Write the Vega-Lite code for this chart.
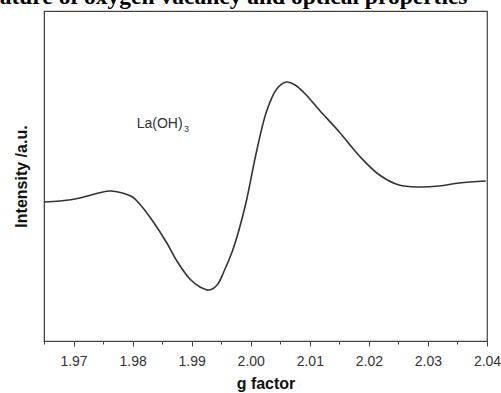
{
  "$schema": "https://vega.github.io/schema/vega-lite/v6.json",
  "autosize": {"type": "none"},
  "width": 443,
  "height": 330,
  "padding": {"left": 44, "top": 11, "right": 14, "bottom": 52},
  "background": "white",
  "config": {
    "view": {"stroke": "#444", "strokeWidth": 1.2},
    "axis": {"grid": false, "domainColor": "#444", "tickColor": "#444"}
  },
  "datasets": {
    "epr": [
      {"g": 1.9650, "intensity": 139},
      {"g": 1.9677, "intensity": 140},
      {"g": 1.9711, "intensity": 143},
      {"g": 1.9736, "intensity": 147},
      {"g": 1.9761, "intensity": 150},
      {"g": 1.9783, "intensity": 148},
      {"g": 1.9800, "intensity": 144},
      {"g": 1.9812, "intensity": 137},
      {"g": 1.9834, "intensity": 120},
      {"g": 1.9858, "intensity": 98},
      {"g": 1.9875, "intensity": 80},
      {"g": 1.9897, "intensity": 62},
      {"g": 1.9914, "intensity": 54},
      {"g": 1.9930, "intensity": 51},
      {"g": 1.9943, "intensity": 56},
      {"g": 1.9955, "intensity": 70},
      {"g": 1.9969, "intensity": 90},
      {"g": 1.9981, "intensity": 113},
      {"g": 1.9993, "intensity": 141},
      {"g": 2.0010, "intensity": 190},
      {"g": 2.0027, "intensity": 230},
      {"g": 2.0044, "intensity": 252},
      {"g": 2.0060, "intensity": 259},
      {"g": 2.0075, "intensity": 256},
      {"g": 2.0094, "intensity": 246},
      {"g": 2.0116, "intensity": 231},
      {"g": 2.0150, "intensity": 209},
      {"g": 2.0184, "intensity": 185},
      {"g": 2.0218, "intensity": 166},
      {"g": 2.0251, "intensity": 156},
      {"g": 2.0285, "intensity": 154},
      {"g": 2.0319, "intensity": 155},
      {"g": 2.0353, "intensity": 158},
      {"g": 2.0398, "intensity": 160}
    ],
    "labels": [
      {"g": 1.9807, "intensity": 213, "text": "La(OH)", "kind": "main"},
      {"g": 1.9887, "intensity": 209, "text": "3", "kind": "sub"}
    ],
    "heading": [
      {"g": 1.9575, "intensity": 337.5, "text": "ature of oxygen vacancy and optical properties"}
    ]
  },
  "layer": [
    {
      "data": {"name": "epr"},
      "mark": {"type": "line", "interpolate": "catmull-rom", "color": "#333", "strokeWidth": 1.6},
      "encoding": {
        "x": {
          "field": "g", "type": "quantitative",
          "scale": {"domain": [1.965, 2.04], "nice": false, "zero": false},
          "axis": {
            "orient": "bottom",
            "values": [1.965, 1.97, 1.975, 1.98, 1.985, 1.99, 1.995, 2.0, 2.005, 2.01, 2.015, 2.02, 2.025, 2.03, 2.035, 2.04],
            "tickCount": 40,
            "labelExpr": "(round(datum.value*1000) % 10 == 0) ? format(datum.value, '.2f') : ''",
            "tickSize": {"condition": {"test": "round(datum.value*1000) % 10 == 0", "value": 5}, "value": 3},
            "labelFont": "Liberation Sans",
            "labelFontSize": 14,
            "labelColor": "#333",
            "labelPadding": 8,
            "labelOverlap": false,
            "labelFlush": false,
            "labelBound": false,
            "title": "g factor",
            "titleFont": "Liberation Sans",
            "titleFontSize": 16,
            "titleFontWeight": "bold",
            "titleColor": "#111",
            "titlePadding": 7
          }
        },
        "y": {
          "field": "intensity", "type": "quantitative",
          "scale": {"domain": [0, 330], "nice": false},
          "axis": {
            "ticks": false,
            "labels": false,
            "title": "Intensity /a.u.",
            "titleFont": "Liberation Sans",
            "titleFontSize": 16,
            "titleFontWeight": "bold",
            "titleColor": "#111",
            "titlePadding": 15
          }
        }
      }
    },
    {
      "data": {"name": "labels"},
      "mark": {"type": "text", "align": "left", "baseline": "alphabetic", "font": "Liberation Sans", "color": "#333"},
      "encoding": {
        "x": {"field": "g", "type": "quantitative"},
        "y": {"field": "intensity", "type": "quantitative"},
        "text": {"field": "text"},
        "size": {"field": "kind", "type": "nominal", "scale": {"domain": ["main", "sub"], "range": [14, 9]}, "legend": null}
      }
    },
    {
      "data": {"name": "heading"},
      "mark": {"type": "text", "align": "left", "baseline": "alphabetic", "font": "Liberation Serif", "fontWeight": "bold", "fontSize": 23.5, "color": "#000"},
      "encoding": {
        "x": {"field": "g", "type": "quantitative"},
        "y": {"field": "intensity", "type": "quantitative"},
        "text": {"field": "text"}
      }
    }
  ]
}
